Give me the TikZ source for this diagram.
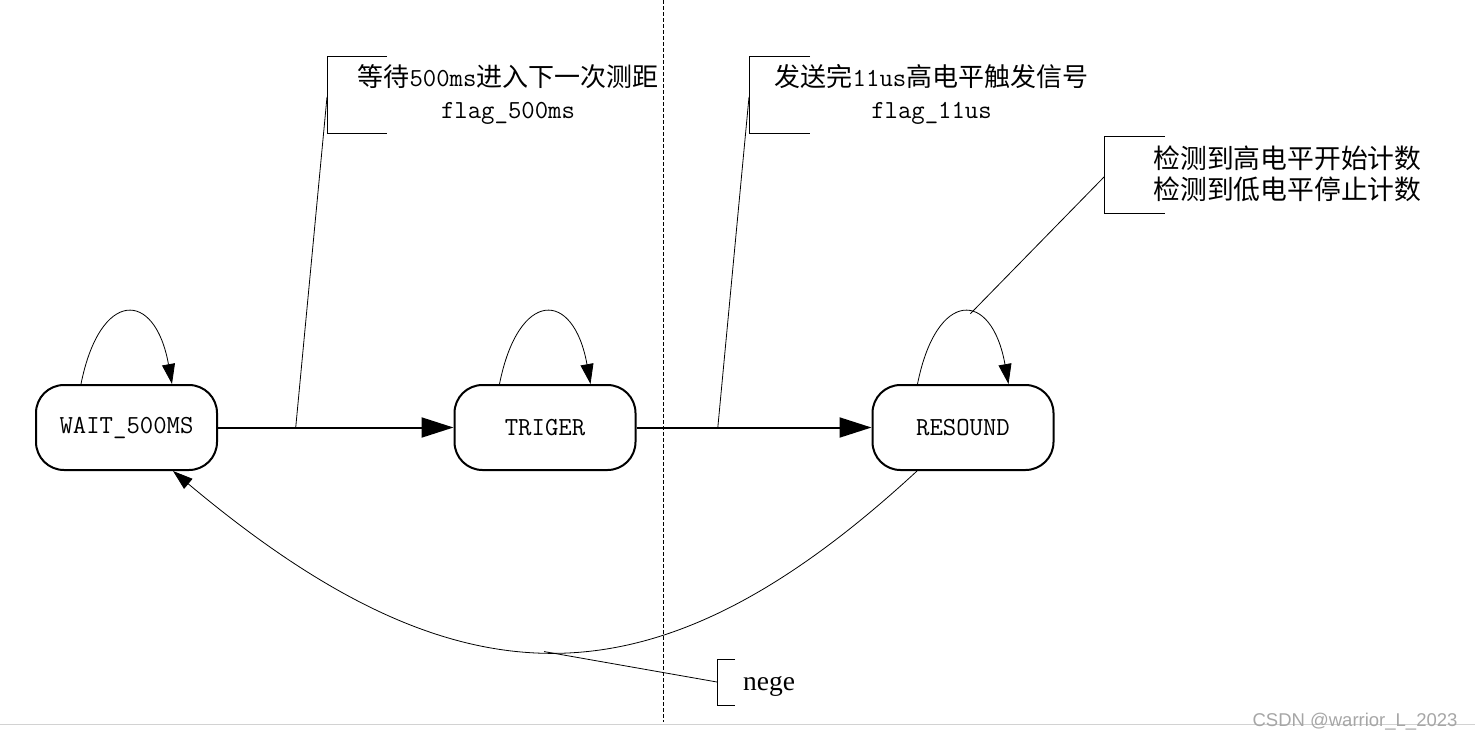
\documentclass[tikz,border=0pt]{standalone}
\usepackage{fontspec}
\newfontfamily\cjk{Noto Sans CJK SC}
\newfontfamily\negefont{Liberation Serif}
\newfontfamily\wmfont{Liberation Sans}
\usetikzlibrary{arrows.meta}
\begin{document}
\begin{tikzpicture}[x=1pt,y=-1pt,
  state/.style={draw,line width=2pt,rounded corners=28pt,minimum width=181pt,minimum height=85pt,inner sep=0pt,
    font=\fontsize{26}{30}\selectfont\ttfamily},
  trans/.style={line width=2pt,-{Triangle[length=32pt,width=20pt]}},
  loope/.style={line width=0.8pt,-{Triangle[length=20pt,width=13pt]}},
  note/.style={line width=0.8pt},
  lbl/.style={font=\fontsize{26}{32}\selectfont,align=center,inner sep=0pt}]
\useasboundingbox (0,0) rectangle (1475,742);
% watermark line
\draw[gray!35,line width=0.8pt] (0,724) -- (1475,724);
\node[font=\wmfont\fontsize{18.5}{20}\selectfont,text=gray!70,inner sep=0pt] (wm) at (1355,722) {CSDN @warrior\_L\_2023};
% dashed divider
\draw[dash pattern=on 4pt off 2pt,line width=0.8pt] (663,0) -- (663,722);
% states
\node[state] (w) at (126.5,427.5) {WAIT\_500MS};
\node[state] (t) at (545,427.5) {TRIGER};
\node[state] (r) at (963,427.5) {RESOUND};
% transitions
\draw[trans] (w) -- coordinate[pos=0.33] (a1) (t);
\draw[trans] (t) -- coordinate[pos=0.346] (a2) (r);
% self loops
\draw[loope] ([xshift=-45.5pt]w.north) .. controls +(19,-95) and +(-17,-95) .. ([xshift=45.5pt]w.north);
\draw[loope] ([xshift=-45.5pt]t.north) .. controls +(19,-95) and +(-17,-95) .. ([xshift=45.5pt]t.north);
\draw[loope] ([xshift=-45.5pt]r.north) .. controls +(19,-95) and +(-17,-95) .. coordinate[pos=0.56] (a3) ([xshift=45.5pt]r.north);
% return curve
\draw[loope] ([xshift=-46pt]r.south) .. controls (656,712) and (460,712) .. coordinate[pos=0.515] (a4) ([xshift=46.5pt]w.south);
% label 1
\node[lbl] (l1) at (508,94) {{\cjk 等待}{\ttfamily 500ms}{\cjk 进入下一次测距}\\{\ttfamily flag\_500ms}};
\draw[note] (387,56) -| (327,133) -- (387,133);
\coordinate (b1) at (327,97);
\draw[note] (b1) -- (a1);
% label 2
\node[lbl] (l2) at (931.5,94) {{\cjk 发送完}{\ttfamily 11us}{\cjk 高电平触发信号}\\{\ttfamily flag\_11us}};
\draw[note] (810,56) -| (749,133) -- (810,133);
\coordinate (b2) at (749,97);
\draw[note] (b2) -- (a2);
% label 3
\node[lbl,align=left,font=\fontsize{26.8}{31}\selectfont\cjk] (l3) at (1287.5,174) {检测到高电平开始计数\\检测到低电平停止计数};
\draw[note] (1165,136) -| (1104,213) -- (1165,213);
\coordinate (b3) at (1104,177);
\draw[note] (b3) -- (a3);
% nege
\node[anchor=west,font=\negefont\fontsize{27.5}{32}\selectfont,inner sep=0pt] (n) at (743,686) {nege};
\draw[note] (735,659) -| (717,705) -- (735,705);
\coordinate (b4) at (717,682);
\draw[note] (b4) -- (a4);
\end{tikzpicture}
\end{document}
